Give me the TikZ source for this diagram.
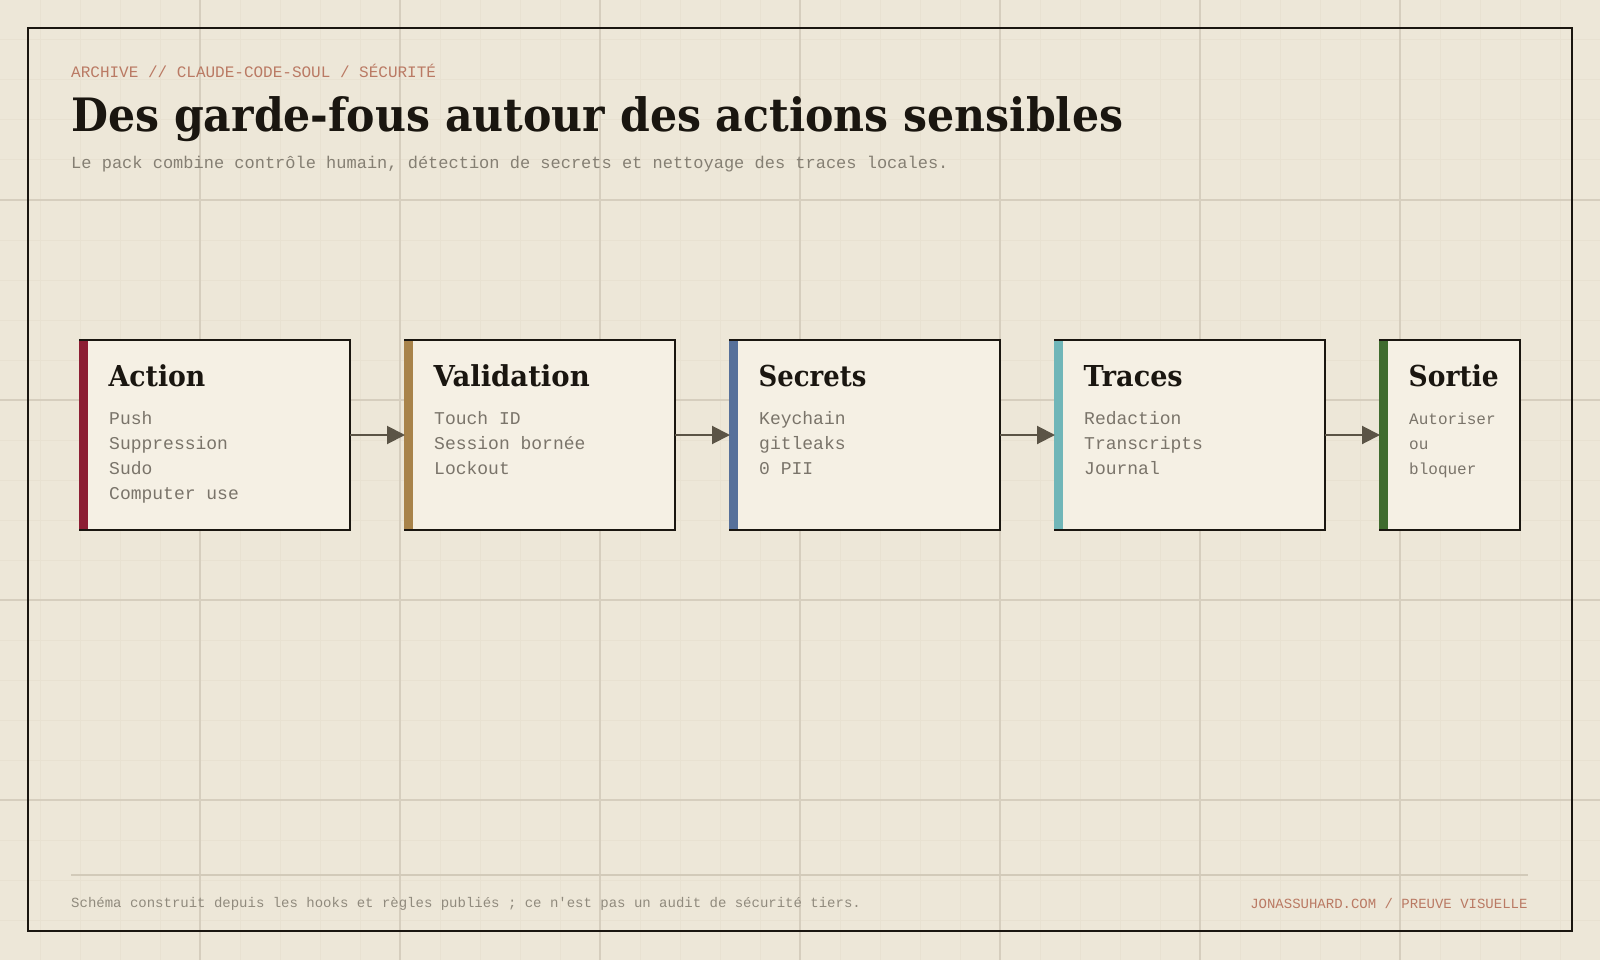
\documentclass[tikz,border=0pt]{standalone}
\usepackage{fontspec}
\usepackage{graphicx}
\setmainfont{DejaVu Serif}
\newfontfamily\serifbold{DejaVu Serif}[UprightFont=* Bold]
\newfontfamily\monofont{Liberation Mono}
\usetikzlibrary{arrows.meta}
\definecolor{bg}{HTML}{EDE7D8}
\definecolor{minorgrid}{HTML}{E8E1D1}
\definecolor{majorgrid}{HTML}{D6CEBE}
\definecolor{rulec}{HTML}{D2CAB9}
\definecolor{boxfill}{HTML}{F5F0E4}
\definecolor{ink}{HTML}{1A1610}
\definecolor{muted}{HTML}{7A746A}
\definecolor{subc}{HTML}{857F73}
\definecolor{footc}{HTML}{908A7D}
\definecolor{rust}{HTML}{BA7A64}
\definecolor{arrowc}{HTML}{5B5446}
\definecolor{barA}{HTML}{8C1E33}
\definecolor{barB}{HTML}{A8834A}
\definecolor{barC}{HTML}{56709A}
\definecolor{barD}{HTML}{70B6B8}
\definecolor{barE}{HTML}{3F6B2E}
\tikzset{
  stagebox/.style={draw=ink, line width=2pt, fill=boxfill, rectangle, inner sep=0pt, outer sep=0pt, minimum height=190pt, anchor=north west},
  stagetitle/.style={inner sep=0pt, anchor=base west, text=ink, font=\serifbold\fontsize{28.8}{30}\selectfont},
  itemtext/.style={inner sep=0pt, anchor=base west, text=muted},
  flow/.style={draw=arrowc, line width=2pt, -{Triangle[length=18pt,width=18pt]}},
  plain/.style={inner sep=0pt, anchor=base west}
}
% #1 name, #2 x, #3 width, #4 colour, #5 title, #6 title width, #7 item size, #8 items
\newcommand\stagenode[8]{%
  \node[stagebox, minimum width=#3] (#1) at (#2,340) {};
  \fill[#4] ([yshift=-1pt]#1.north west) ++(-1pt,0) rectangle ([xshift=8pt,yshift=1pt]#1.south west);
  \node[stagetitle] (#1-t) at ([xshift=28.5pt,yshift=-46pt]#1.north west) {\resizebox{#6}{\height}{#5}};
  \foreach \itm [count=\i] in {#8} {
    \node[itemtext, font=\monofont\fontsize{#7}{#7}\selectfont] (#1-i\i) at ([xshift=29pt,yshift={-84pt-(\i-1)*25pt}]#1.north west) {\itm};
  }
}
\begin{document}
\begin{tikzpicture}[x=1pt,y=-1pt]
\useasboundingbox (0,0) rectangle (1600,960);
\fill[bg] (0,0) rectangle (1600,960);
% grid
\foreach \gx in {40,80,...,1560} \draw[minorgrid, line width=1pt] (\gx,0) -- (\gx,960);
\foreach \gy in {40,80,...,920} \draw[minorgrid, line width=1pt] (0,\gy) -- (1600,\gy);
\foreach \gx in {200,400,...,1400} \draw[majorgrid, line width=1.5pt] (\gx,0) -- (\gx,960);
\foreach \gy in {200,400,...,800} \draw[majorgrid, line width=1.5pt] (0,\gy) -- (1600,\gy);
% frame
\draw[ink, line width=2pt] (28,28) rectangle (1572,931);
% header
\node[plain, text=rust, font=\monofont\fontsize{16}{16}\selectfont] (eyebrow) at (71,77.7) {ARCHIVE // CLAUDE-CODE-SOUL / SÉCURITÉ};
\node[plain, text=ink, font=\serifbold\fontsize{46}{48}\selectfont] (title) at (71,131.7) {\resizebox{1052pt}{\height}{Des garde-fous autour des actions sensibles}};
\node[plain, text=subc, font=\monofont\fontsize{17}{17}\selectfont] (subtitle) at (71,168.3) {Le pack combine contrôle humain, détection de secrets et nettoyage des traces locales.};
% stages
\stagenode{action}{80}{270pt}{barA}{Action}{96.7pt}{18}{Push,Suppression,Sudo,Computer use}
\stagenode{validation}{405}{270pt}{barB}{Validation}{156pt}{18}{Touch ID,Session bornée,Lockout}
\stagenode{secrets}{730}{270pt}{barC}{Secrets}{107.7pt}{18}{Keychain,gitleaks,0 PII}
\stagenode{traces}{1055}{270pt}{barD}{Traces}{99pt}{18}{Redaction,Transcripts,Journal}
\stagenode{sortie}{1380}{140pt}{barE}{Sortie}{90pt}{16}{Autoriser,ou,bloquer}
% connectors
\draw[flow] (action.east) -- (validation.west);
\draw[flow] (validation.east) -- (secrets.west);
\draw[flow] (secrets.east) -- (traces.west);
\draw[flow] (traces.east) -- (sortie.west);
% footer
\coordinate (ruleL) at (71,874.5);
\coordinate (ruleR) at (1528,874.5);
\draw[rulec, line width=2pt] (ruleL) -- (ruleR);
\node[plain, text=footc, font=\monofont\fontsize{14}{14}\selectfont] (footL) at (71,907.7) {Schéma construit depuis les hooks et règles publiés ; ce n'est pas un audit de sécurité tiers.};
\node[inner sep=0pt, anchor=base east, text=rust, font=\monofont\fontsize{14}{14}\selectfont] (footR) at (1527.7,908) {JONASSUHARD.COM / PREUVE VISUELLE};
\end{tikzpicture}
\end{document}
